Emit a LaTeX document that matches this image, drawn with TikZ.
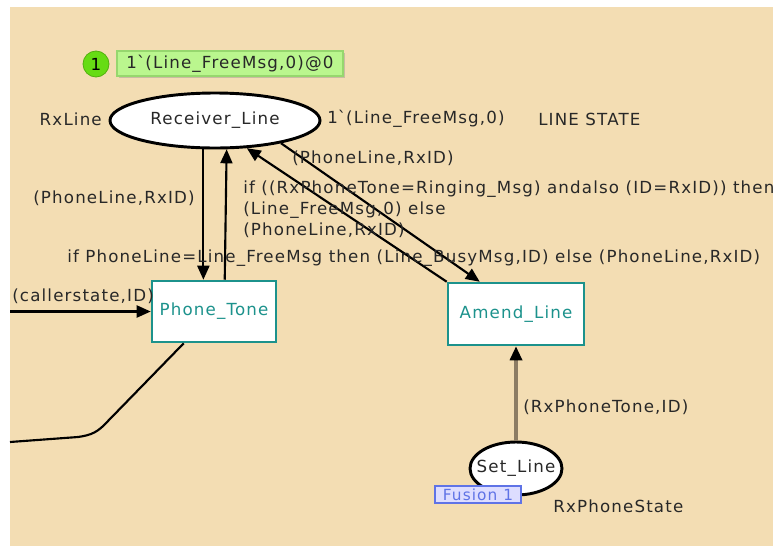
\documentclass[tikz,border=0pt]{standalone}
\usepackage{fontspec}
\setmainfont[LetterSpace=7]{DejaVu Sans}
\usetikzlibrary{shapes.geometric,arrows.meta,shadows,calc}
\definecolor{bg}{RGB}{243,221,179}
\definecolor{txt}{RGB}{40,40,40}
\definecolor{teal1}{RGB}{28,146,140}
\definecolor{tokfill}{RGB}{186,246,142}
\definecolor{tokdraw}{RGB}{150,215,110}
\definecolor{tokcirc}{RGB}{102,220,20}
\definecolor{fusfill}{RGB}{221,221,255}
\definecolor{fusdraw}{RGB}{95,115,230}
\definecolor{arcbrown}{RGB}{140,124,100}
\begin{document}
\begin{tikzpicture}[x=0.75pt,y=-0.75pt,
  every node/.style={font=\fontsize{12.5}{15.75}\selectfont, text=txt},
  place/.style={ellipse, draw=black, line width=2.2pt, fill=white, inner sep=0pt},
  trans/.style={rectangle, draw=teal1, line width=1.9pt, fill=white, inner sep=0pt, text=teal1},
  arc/.style={draw=black, line width=1.6pt, -{Triangle[length=10.5pt,width=9pt]}},
  plain/.style={draw=black, line width=1.6pt},
  lbl/.style={anchor=west, inner sep=0pt, align=left}
]
\useasboundingbox (0,0) rectangle (773,546);
\fill[white] (0,0) rectangle (773,546);
\fill[bg] (10,7) rectangle (773,546);

% places
\node[place, minimum width={210*0.75pt}, minimum height={55*0.75pt}] (rl) at (215,120.5) {};
\node (rlt) at (rl.center) {Receiver\_Line};
\node[place, minimum width={92*0.75pt}, minimum height={53*0.75pt}] (sl) at (516,468.5) {};
\node (slt) at (sl.center) {Set\_Line};

% transitions
\node[trans, minimum width={124*0.75pt}, minimum height={61*0.75pt}] (pt) at (214,311.5) {Phone\_Tone};
\node[trans, minimum width={136*0.75pt}, minimum height={62*0.75pt}] (al) at (516,314) {Amend\_Line};

% token
\node[circle, fill=tokcirc, draw=tokcirc!80!black, line width=0.6pt, minimum size={26*0.75pt}, inner sep=0pt, text=black] (tc) at (96,64) {1};
\node[draw=tokdraw, fill=tokfill, line width=0.8pt, minimum width={226*0.75pt}, minimum height={25*0.75pt}, inner sep=0pt,
      drop shadow={shadow xshift=1.5pt, shadow yshift=-1.5pt, opacity=0.35}, text=txt] (tok) at (230,63.5) {1\textasciigrave(Line\_FreeMsg,0)@0};

% place inscriptions
\node[lbl, anchor=east] (rxline) at (102,119) {RxLine};
\node[lbl] (init) at (327,119) {1\textasciigrave(Line\_FreeMsg,0)};
\node[lbl] (ls) at (538,119) {LINE STATE};
\node[lbl] (rps) at (553,506) {RxPhoneState};

% fusion tag
\node[draw=fusdraw, fill=fusfill, line width=1pt, minimum width={86*0.75pt}, minimum height={17*0.75pt}, inner sep=0pt,
      text=fusdraw, font=\fontsize{11.5}{13}\selectfont] (fus) at (478,494.5) {Fusion 1};

% arcs
\draw[arc] (rl.248) -- (rl.248 |- pt.north);
\draw[arc] ($(pt.north west)+(74,0)$) -- (rl.292);
\draw[arc] (rl.-19) -- ($(al.north west)+(33,0)$);
\draw[arc] (al.north west) -- (rl.-41);
\draw[draw=arcbrown, line width=2.4pt, -{Triangle[length=10.5pt,width=9pt,color=black]}] (sl.north) -- (al.south);

\coordinate (cin) at (10,311.5);
\draw[arc] (cin) -- (pt.west);
\coordinate (cout) at (10,442);
\draw[plain] ($(pt.south west)+(33,0)$) -- (108,421) .. controls (98,432) and (92,435) .. (78,437) -- (cout);

% arc inscriptions
\node[lbl] at (33,198) {(PhoneLine,RxID)};
\node[lbl] at (67,258) {if PhoneLine=Line\_FreeMsg then (Line\_BusyMsg,ID) else (PhoneLine,RxID)};
\node[lbl] at (292,158) {(PhoneLine,RxID)};
\node[lbl, anchor=north west] at (243,181) {if ((RxPhoneTone=Ringing\_Msg) andalso (ID=RxID)) then\\(Line\_FreeMsg,0) else\\(PhoneLine,RxID)};
\node[lbl] at (12,296) {(callerstate,ID)};
\node[lbl] at (523,407) {(RxPhoneTone,ID)};
\end{tikzpicture}
\end{document}
